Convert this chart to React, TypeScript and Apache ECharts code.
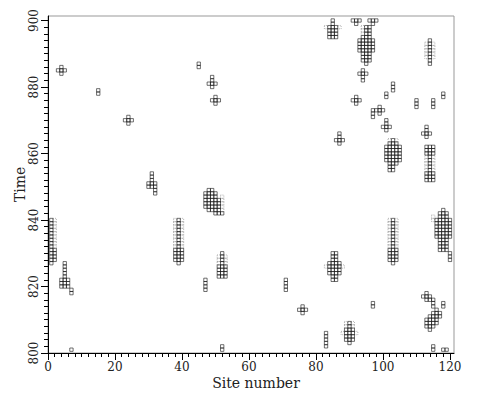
import React, { useEffect, useRef } from 'react';
import * as echarts from 'echarts';

const xMajorTicks = [0, 20, 40, 60, 80, 100, 120];
const yMajorTicks = [800, 820, 840, 860, 880, 900];
const xMinorTicks = Array.from({ length: 61 }, (_, i) => i * 2);
const yMinorTicks = Array.from({ length: 51 }, (_, i) => 800 + i * 2);

// occupied cells, as runs: [site, first time, last time]
const solidColumns: [number, number, number][] = [
  [3, 885, 885], [4, 884, 886], [5, 885, 885],
  [15, 878, 879],
  [23, 870, 870], [24, 869, 871], [25, 870, 870],
  [45, 886, 887],
  [48, 881, 881], [49, 880, 883], [50, 881, 881],
  [49, 876, 876], [50, 875, 877], [51, 876, 876],
  [30, 850, 851], [31, 850, 854], [32, 848, 851],
  [47, 844, 848], [48, 843, 849], [49, 843, 849], [50, 842, 848], [51, 842, 846], [52, 842, 842],
  [1, 827, 840], [2, 828, 831],
  [4, 820, 822], [5, 820, 827], [6, 820, 822],
  [7, 818, 819],
  [7, 801, 801],
  [38, 828, 831], [39, 827, 840], [40, 828, 831],
  [47, 819, 822],
  [51, 823, 826], [52, 823, 830], [53, 823, 826],
  [52, 801, 802],
  [71, 819, 822],
  [75, 813, 813], [76, 812, 814], [77, 813, 813],
  [83, 802, 806],
  [84, 824, 827], [85, 822, 830], [86, 822, 830], [87, 824, 827],
  [89, 804, 807], [90, 803, 809], [91, 804, 807],
  [97, 814, 815],
  [112, 817, 817], [113, 816, 818], [114, 816, 817], [115, 814, 816],
  [118, 814, 815],
  [113, 808, 810], [114, 807, 811], [115, 808, 812], [116, 809, 813], [117, 811, 812],
  [115, 801, 802],
  [118, 801, 801], [119, 801, 801],
  [84, 895, 898], [85, 895, 900], [86, 895, 898],
  [91, 900, 900], [92, 899, 900], [93, 900, 900],
  [96, 900, 900], [97, 899, 900], [98, 900, 900],
  [95, 896, 898], [96, 896, 898],
  [93, 891, 894], [94, 888, 895], [95, 887, 895], [96, 888, 895], [97, 891, 894],
  [114, 887, 894],
  [93, 884, 884], [94, 882, 885], [95, 884, 884],
  [103, 879, 881],
  [101, 877, 878],
  [91, 876, 876], [92, 875, 877], [93, 876, 876],
  [97, 871, 873], [98, 873, 873], [99, 872, 874], [100, 873, 873],
  [100, 868, 868], [101, 867, 870], [102, 868, 868],
  [110, 874, 876],
  [115, 874, 876],
  [118, 877, 878],
  [112, 866, 866], [113, 865, 868], [114, 866, 866],
  [86, 864, 864], [87, 863, 866], [88, 864, 864],
  [101, 858, 862], [102, 855, 863], [103, 855, 864], [104, 857, 863], [105, 858, 862],
  [113, 860, 862], [114, 852, 862], [115, 860, 862], [113, 852, 854], [115, 852, 854],
  [102, 828, 831], [103, 827, 840], [104, 828, 831],
  [116, 835, 840], [117, 831, 842], [118, 831, 843], [119, 831, 842], [120, 835, 840],
  [120, 828, 830],
];

// faintly marked cells (dotted outlines)
const dottedColumns: [number, number, number][] = [
  [52, 843, 847],
  [2, 832, 840],
  [38, 832, 840], [40, 832, 840],
  [51, 827, 829], [53, 827, 829],
  [83, 826, 826], [88, 826, 826],
  [88, 806, 806], [92, 806, 806], [89, 808, 809], [91, 808, 809],
  [83, 898, 898], [87, 898, 898],
  [94, 896, 898],
  [113, 889, 893], [115, 889, 893],
  [102, 864, 864], [104, 864, 864],
  [113, 855, 859], [115, 855, 859],
  [102, 832, 840], [104, 832, 840],
  [115, 840, 841],
];

function expand(cols: [number, number, number][]) {
  const out: number[][] = [];
  for (const [s, a, b] of cols) for (let t = a; t <= b; t++) out.push([s, t]);
  return out;
}

const FONT = 'DejaVu Serif';

function cellRenderer(dotted: boolean) {
  return (_params: any, api: any) => {
    const s = api.value(0);
    const t = api.value(1);
    const p = api.coord([s - 0.5, t + 0.5]);
    const size = api.size([1, 1]);
    return {
      type: 'rect',
      shape: { x: p[0], y: p[1], width: size[0], height: size[1] },
      style: dotted
        ? { fill: 'none', stroke: '#666', lineWidth: 0.6, lineDash: [0.8, 1.2] }
        : { fill: 'none', stroke: '#111', lineWidth: 0.6 },
    };
  };
}

export default function App() {
  const ref = useRef<HTMLDivElement>(null);
  useEffect(() => {
    if (!ref.current) return;
    const chart = echarts.init(ref.current, undefined, { renderer: 'svg' });
    const common = { min: 0, max: 121.2, type: 'value' as const, gridIndex: 0 };
    const ycommon = { min: 800, max: 901.35, type: 'value' as const, gridIndex: 0 };
    chart.setOption({
      animation: false,
      backgroundColor: '#fff',
      grid: { left: 48, right: 23, top: 16, bottom: 44, show: true, borderColor: '#999', borderWidth: 1 },
      xAxis: [
        {
          ...common,
          position: 'bottom',
          name: 'Site number',
          nameLocation: 'middle',
          nameGap: 23,
          nameMoveOverlap: false,
          nameTextStyle: { fontFamily: FONT, fontSize: 14, color: '#222', padding: [0, 0, 0, 10] },
          splitLine: { show: false },
          axisLine: { show: true, lineStyle: { color: '#000', width: 1 } },
          axisTick: { show: true, length: 7, customValues: xMajorTicks, lineStyle: { color: '#000' } },
          axisLabel: { customValues: xMajorTicks, fontFamily: FONT, fontSize: 12, color: '#222', margin: 8 },
        },
        {
          ...common,
          position: 'bottom',
          splitLine: { show: false },
          axisLine: { show: false },
          axisTick: { show: true, length: 4, customValues: xMinorTicks, lineStyle: { color: '#000' } },
          axisLabel: { show: false },
        },
      ],
      yAxis: [
        {
          ...ycommon,
          position: 'left',
          name: 'Time',
          nameLocation: 'middle',
          nameRotate: 90,
          nameGap: 21,
          nameMoveOverlap: false,
          nameTextStyle: { fontFamily: FONT, fontSize: 14, color: '#222' },
          splitLine: { show: false },
          axisLine: { show: true, lineStyle: { color: '#000', width: 1 } },
          axisTick: { show: true, length: 7, customValues: yMajorTicks, lineStyle: { color: '#000' } },
          axisLabel: { customValues: yMajorTicks, rotate: 90, fontFamily: FONT, fontSize: 12, color: '#222', margin: 8 },
        },
        {
          ...ycommon,
          position: 'left',
          splitLine: { show: false },
          axisLine: { show: false },
          axisTick: { show: true, length: 4, customValues: yMinorTicks, lineStyle: { color: '#000' } },
          axisLabel: { show: false },
        },
      ],
      series: [
        {
          type: 'custom',
          xAxisIndex: 0,
          yAxisIndex: 0,
          clip: true,
          renderItem: cellRenderer(true),
          data: expand(dottedColumns),
        },
        {
          type: 'custom',
          xAxisIndex: 0,
          yAxisIndex: 0,
          clip: true,
          renderItem: cellRenderer(false),
          data: expand(solidColumns),
        },
      ],
    });
    return () => chart.dispose();
  }, []);
  return <div ref={ref} style={{ position: 'fixed', left: 0, top: 0, width: 477, height: 397 }} />;
}
